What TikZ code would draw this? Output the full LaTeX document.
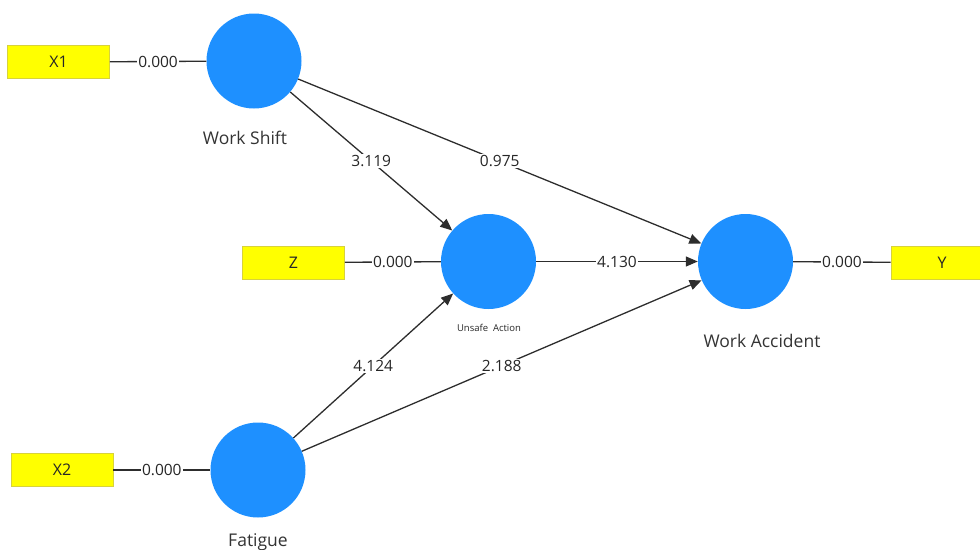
\documentclass[tikz,border=0pt]{standalone}
\usepackage{fontspec}
\setmainfont{Open Sans}
\usetikzlibrary{arrows.meta}
\definecolor{latentblue}{RGB}{30,144,255}
\definecolor{indyellow}{RGB}{255,255,0}
\definecolor{indborder}{RGB}{215,210,60}
\definecolor{edgegray}{RGB}{45,45,45}
\begin{document}
\begin{tikzpicture}[x=1pt,y=-1pt,
  latent/.style={circle,fill=latentblue,draw=none,minimum size=95pt,inner sep=0pt},
  indicator/.style={rectangle,fill=indyellow,draw=indborder,line width=0.6pt,minimum width=102pt,minimum height=33pt,inner sep=0pt,font=\fontsize{16}{16}\selectfont,text=black!85},
  caption/.style={font=\fontsize{17.5}{17.5}\selectfont,text=black!80},
  weight/.style={fill=white,inner sep=1.5pt,font=\fontsize{15.5}{15.5}\selectfont,text=black!85},
  loading/.style={draw=edgegray,line width=1.3pt},
  path/.style={draw=edgegray,line width=1.3pt,-{Triangle[length=12pt,width=10pt]}}]
\useasboundingbox (0,0) rectangle (980,549);

% latent variables
\node[latent] (ws) at (254,61) {};
\node[latent] (ua) at (488.5,261.5) {};
\node[latent] (fa) at (258,470) {};
\node[latent] (wa) at (745.5,261.5) {};

% captions
\node[caption] (wslab) at (245,138) {Work Shift};
\node[font=\fontsize{9.5}{9.5}\selectfont,text=black!85] (ualab) at (489,328) {Unsafe\ \ Action};
\node[caption] (falab) at (258,542) {Fatigue};
\node[caption] (walab) at (762,341) {Work Accident};

% indicators
\node[indicator] (x1) at (58.5,62) {X1};
\node[indicator] (z) at (293.5,262.5) {Z};
\node[indicator] (x2) at (62,470) {X2};
\node[indicator] (y) at (942,262.5) {Y};

% outer loadings
\draw[loading] (x1) -- node[weight] (lx1) {0.000} (ws);
\draw[loading] (z) -- node[weight] (lz) {0.000} (ua);
\draw[loading] (x2) -- node[weight] (lx2) {0.000} (fa);
\draw[loading] (wa) -- node[weight] (ly) {0.000} (y);

% structural paths
\draw[path] (ws) -- node[weight] (p1) {3.119} (ua);
\draw[path] (ws) -- node[weight] (p2) {0.975} (wa);
\draw[path] (ua) -- node[weight] (p3) {4.130} (wa);
\draw[path] (fa) -- node[weight] (p4) {4.124} (ua);
\draw[path] (fa) -- node[weight] (p5) {2.188} (wa);
\end{tikzpicture}
\end{document}
